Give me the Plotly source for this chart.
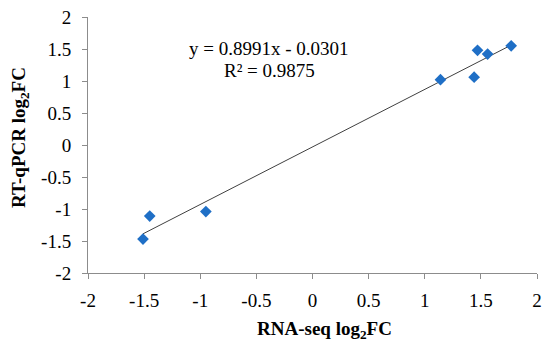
import plotly.graph_objects as go

rna_seq = [-1.51, -1.45, -0.95, 1.14, 1.44, 1.47, 1.56, 1.77]
rt_qpcr = [-1.47, -1.11, -1.04, 1.02, 1.06, 1.48, 1.42, 1.55]
slope = 0.8991
intercept = -0.0301
r2 = 0.9875
tick_vals = [-2, -1.5, -1, -0.5, 0, 0.5, 1, 1.5, 2]
tick_text = ["-2", "-1.5", "-1", "-0.5", "0", "0.5", "1", "1.5", "2"]

L, R, T, B = 88, 13, 17, 76
W, H = 550, 349
pw, ph = W - L - R, H - T - B

def px(x, y):
    return (x - L) / pw, 1 - (y - T) / ph

x0, x1 = min(rna_seq), max(rna_seq)
fig = go.Figure()
fig.add_trace(go.Scatter(x=[x0, x1], y=[slope * x0 + intercept, slope * x1 + intercept],
                         mode="lines", line=dict(color="#404040", width=1), showlegend=False))
fig.add_trace(go.Scatter(x=rna_seq, y=rt_qpcr, mode="markers",
                         marker=dict(symbol="diamond", size=9, color="#1f6fc6"), showlegend=False))

font = dict(family="Liberation Serif", size=19, color="black")
axis_common = dict(range=[-2, 2], tickvals=tick_vals, ticktext=tick_text, showgrid=False,
                   zeroline=False, showline=True, linecolor="#8c8c8c", linewidth=1,
                   ticks="outside", ticklen=5, tickcolor="#8c8c8c", tickfont=font,
                   automargin=False)
fig.update_xaxes(**axis_common, ticklabelstandoff=5)
fig.update_yaxes(**axis_common, ticklabelstandoff=7)

anns = []
def ann(text, x, y, **kw):
    ax, ay = px(x, y)
    anns.append(dict(text=text, x=ax, y=ay, xref="paper", yref="paper", showarrow=False,
                     xanchor="center", yanchor="middle", font=font, **kw))

ann(f"y = {slope}x - {abs(intercept)}", 269, 48)
ann(f"R² = {r2}", 269, 70)
ann("<b>RNA-seq log<sub>2</sub>FC</b>", 324, 330)
ann("<b>RT-qPCR log<sub>2</sub>FC</b>", 20, 138, textangle=-90)

fig.update_layout(
    width=W, height=H, margin=dict(l=L, r=R, t=T, b=B, autoexpand=False),
    plot_bgcolor="white", paper_bgcolor="white", font=font, annotations=anns,
)
fig.write_html("out.html", config={"displayModeBar": False},
               post_script="document.body.style.margin='0';")
